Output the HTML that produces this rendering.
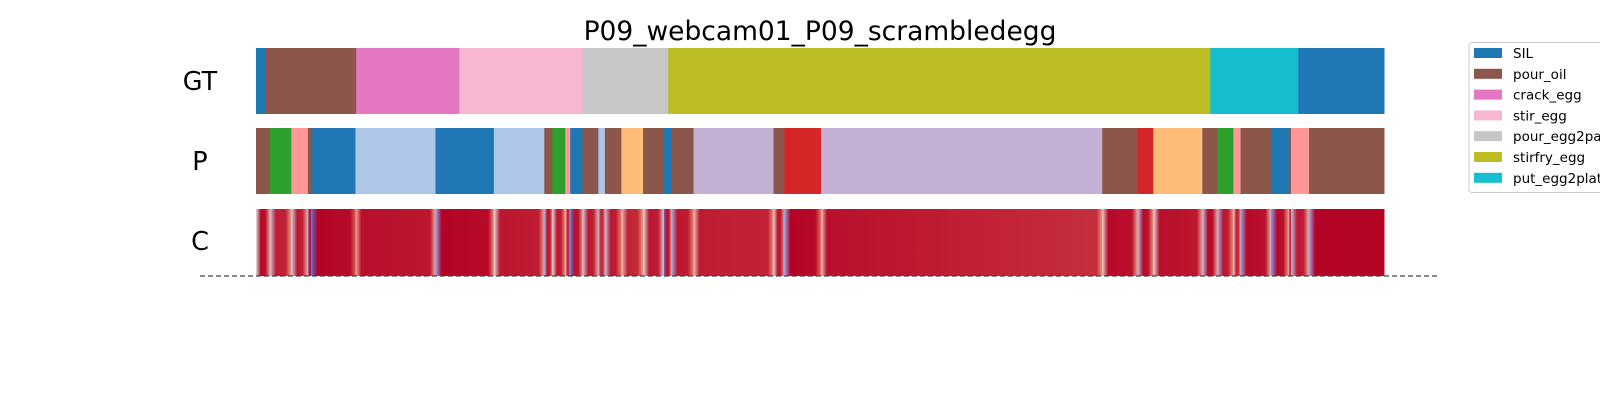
<!DOCTYPE html>
<html><head><meta charset="utf-8"><style>
body{margin:0;background:#fff;font-family:"Liberation Sans","DejaVu Sans",sans-serif}
svg{display:block}
</style></head><body>
<svg id="chart" width="1600" height="400" xmlns="http://www.w3.org/2000/svg">
<defs id="defs"></defs>
<text x="820" y="40" font-size="26.5" text-anchor="middle" font-family="DejaVu Sans, Liberation Sans, sans-serif">P09_webcam01_P09_scrambledegg</text>
<text x="200" y="90" font-size="25.5" text-anchor="middle" font-family="DejaVu Sans, Liberation Sans, sans-serif">GT</text>
<text x="200" y="170" font-size="25.5" text-anchor="middle" font-family="DejaVu Sans, Liberation Sans, sans-serif">P</text>
<text x="200" y="250" font-size="25.5" text-anchor="middle" font-family="DejaVu Sans, Liberation Sans, sans-serif">C</text>
<g id="gt"></g>
<g id="pred"></g>
<g id="conf"></g>
<line x1="200" y1="276" x2="1439" y2="276" stroke="#444" stroke-width="1.3" stroke-dasharray="5,3"/>
<g id="legend">
<rect x="1469" y="42.5" width="150" height="150" rx="3" fill="#fff" stroke="#ccc"/>
</g>
</svg>
<script>
const totalFrames = 1565;
const gtStarts = [0, 13, 139, 282, 454, 572, 1324, 1446];
const gtLabels = ["SIL","pour_oil","crack_egg","stir_egg","pour_egg2pan","stirfry_egg","put_egg2plate","SIL"];
const predStarts = [0,19,49,72,77,138,249,330,400,411,429,436,453,475,484,507,537,566,576,607,718,733,784,1174,1223,1245,1313,1334,1356,1366,1408,1433,1436,1461];
const predColors = ["#8c564b","#2ca02c","#ff9896","#8c564b","#1f77b4","#aec7e8","#1f77b4","#aec7e8","#8c564b","#2ca02c","#ff9896","#1f77b4","#8c564b","#aec7e8","#8c564b","#ffbb78","#8c564b","#1f77b4","#8c564b","#c5b0d5","#8c564b","#d62728","#c5b0d5","#8c564b","#d62728","#ffbb78","#8c564b","#2ca02c","#ff9896","#8c564b","#1f77b4","#8c564b","#ff9896","#8c564b"];
const confMid = [1.0,0.96,0.97,0.99,1.0,0.98,1.0,0.97,0.97,0.97,0.95,0.98,0.97,0.95,0.97,0.95,0.97,0.98,0.97,0.96,0.97,1.0,0.98,0.99,0.99,0.98,0.99,0.97,0.95,0.99,0.99,0.97,0.97,1.0];
const confEnd = [0.98,0.95,0.95,0.98,0.99,0.97,0.99,0.96,0.96,0.96,0.94,0.97,0.96,0.94,0.96,0.94,0.96,0.97,0.96,0.95,0.96,0.99,0.93,0.98,0.98,0.97,0.98,0.96,0.94,0.98,0.98,0.96,0.96,1.0];
const confEdge = [0.5,0.45,0.45,0.3,0.1,0.7,0.3,0.5,0.35,0.5,0.5,0.1,0.45,0.35,0.4,0.6,0.5,0.1,0.35,0.6,0.5,0.3,0.6,0.55,0.4,0.5,0.4,0.35,0.5,0.3,0.25,0.4,0.4,0.3];
const legendLabels = ["SIL","pour_oil","crack_egg","stir_egg","pour_egg2pan","stirfry_egg","put_egg2plate"];
const legendColors = ["#1f77b4","#8c564b","#e377c2","#f7b6d2","#c7c7c7","#bcbd22","#17becf"];
const gtColorMap = {"SIL":"#1f77b4","pour_oil":"#8c564b","crack_egg":"#e377c2","stir_egg":"#f7b6d2","pour_egg2pan":"#c7c7c7","stirfry_egg":"#bcbd22","put_egg2plate":"#17becf"};

const X0 = 256, X1 = 1384;
const xs = f => X0 + (f / totalFrames) * (X1 - X0);
const NS = "http://www.w3.org/2000/svg";
function coolwarm(v){
  const st=[[0,[59,76,192]],[0.25,[123,159,249]],[0.5,[221,221,221]],[0.75,[244,154,123]],[1,[180,4,38]]];
  for(let i=0;i<st.length-1;i++){ if(v<=st[i+1][0]){const t=(v-st[i][0])/(st[i+1][0]-st[i][0]);const a=st[i][1],b=st[i+1][1];return "rgb("+a.map((c,k)=>Math.round(c+(b[k]-c)*t)).join(",")+")";}}
  return "rgb(180,4,38)";
}
function mk(tag, attrs){const e=document.createElementNS(NS,tag);for(const k in attrs)e.setAttribute(k,attrs[k]);return e;}

const gt=document.getElementById("gt");
gtStarts.forEach((s,i)=>{
  const e=(i+1<gtStarts.length)?gtStarts[i+1]:totalFrames;
  const r=mk("rect",{x:xs(s),y:48,width:xs(e)-xs(s)+0.5,height:66,fill:gtColorMap[gtLabels[i]]});
  
  
  gt.appendChild(r);
});
const pr=document.getElementById("pred");
predStarts.forEach((s,i)=>{
  const e=(i+1<predStarts.length)?predStarts[i+1]:totalFrames;
  const r=mk("rect",{x:xs(s),y:128,width:xs(e)-xs(s)+0.5,height:66,fill:predColors[i]});
  
  
  pr.appendChild(r);
});
const defs=document.getElementById("defs");
const cf=document.getElementById("conf");
predStarts.forEach((s,i)=>{
  const e=(i+1<predStarts.length)?predStarts[i+1]:totalFrames;
  const w=xs(e)-xs(s);
  const g=mk("linearGradient",{id:"g"+i,x1:"0",x2:"1",y1:"0",y2:"0"});
  const edgeFrac=Math.min(0.35, 6/Math.max(w,1));
  const last = (i===predStarts.length-1);
  const stops=[[0,confEdge[i]],[edgeFrac,confMid[i]],[1-edgeFrac,confEnd[i]],[1,last?confEnd[i]:(confEnd[i]+confEdge[i+1])/2]];
  stops.forEach(([o,v])=>g.appendChild(mk("stop",{offset:o,"stop-color":coolwarm(v)})));
  defs.appendChild(g);
  const r=mk("rect",{x:xs(s),y:209,width:w+0.5,height:67,fill:"url(#g"+i+")"});
  
  
  cf.appendChild(r);
});
const lg=document.getElementById("legend");
legendLabels.forEach((l,i)=>{
  const y=53+i*20.8;
  const p=mk("rect",{x:1474,y:y-5,width:28,height:10,fill:legendColors[i]});
  
  
  lg.appendChild(p);
  const t=mk("text",{x:1513,y:y+5,"font-size":"13.5","font-family":"DejaVu Sans, Liberation Sans, sans-serif"});
  t.textContent=l;
  
  
  lg.appendChild(t);
});
</script>
</body></html>
